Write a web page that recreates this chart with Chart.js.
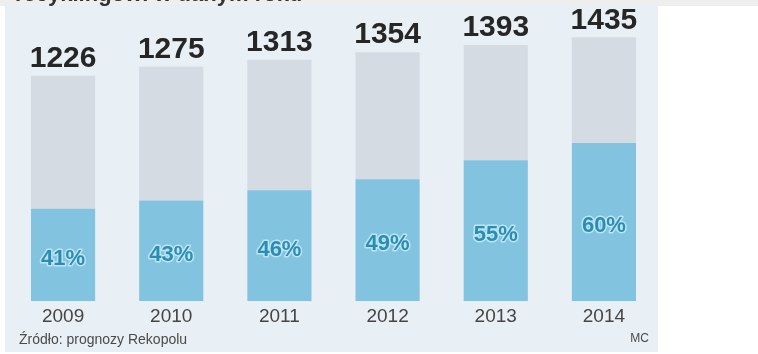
<!DOCTYPE html>
<html>
<head>
<meta charset="utf-8">
<script src="https://cdn.jsdelivr.net/npm/chart.js@4.4.1/dist/chart.umd.min.js"></script>
<style>
  html, body { margin: 0; padding: 0; background: #fff; }
  #wrap { position: relative; width: 758px; height: 354px; }
</style>
</head>
<body>
<div id="wrap"><canvas id="recChart"></canvas></div>
<script>
// Rynek opakowań: ilość (tys. t) i udział poddany recyklingowi
const years = ["2009", "2010", "2011", "2012", "2013", "2014"];
const totals = [1226, 1275, 1313, 1354, 1393, 1435];
const shares = [41, 43, 46, 49, 55, 60]; // %

const recycled = totals.map((t, i) => (t * shares[i]) / 100);
const rest = totals.map((t, i) => t - recycled[i]);

const FONT = "'Liberation Sans', Arial, sans-serif";

// panel background + cropped heading
const panelBg = {
  id: "panelBg",
  beforeDraw(chart) {
    const c = chart.ctx;
    c.save();
    c.fillStyle = "#ffffff";
    c.fillRect(0, 0, chart.width, chart.height);
    c.fillStyle = "#eeeeee";
    c.fillRect(0, 0, chart.width, 6);
    c.fillStyle = "#e9f0f5";
    c.fillRect(5, 6, 653, 346);
    c.fillStyle = "#333";
    c.font = "bold 22px " + FONT;
    c.textBaseline = "alphabetic";
    c.fillText("recyklingowi w danym roku", 15, 1);
    c.restore();
  },
};

// totals above bars, shares inside the blue part, source line
const barLabels = {
  id: "barLabels",
  afterDatasetsDraw(chart) {
    const c = chart.ctx;
    const blue = chart.getDatasetMeta(0).data;
    const grey = chart.getDatasetMeta(1).data;
    const base = chart.scales.y.getPixelForValue(0);
    c.save();
    c.textAlign = "center";
    c.textBaseline = "middle";
    grey.forEach((bar, i) => {
      c.font = "bold 30px " + FONT;
      c.fillStyle = "#262626";
      c.fillText(String(totals[i]), bar.x, bar.y - 17);
    });
    blue.forEach((bar, i) => {
      const y = (bar.y + base) / 2 + 4;
      c.font = "bold 22px " + FONT;
      c.lineJoin = "round";
      c.lineWidth = 3;
      c.strokeStyle = "rgba(205,236,248,0.8)";
      c.strokeText(shares[i] + "%", bar.x, y);
      c.fillStyle = "#2a8db4";
      c.fillText(shares[i] + "%", bar.x, y);
    });
    c.textAlign = "left";
    c.font = "14px " + FONT;
    c.fillStyle = "#4a4a4a";
    c.fillText("Źródło: prognozy Rekopolu", 19, 340);
    c.textAlign = "right";
    c.font = "12px " + FONT;
    c.fillText("MC", 649, 339);
    c.restore();
  },
};

new Chart(document.getElementById("recChart"), {
  type: "bar",
  data: {
    labels: years,
    datasets: [
      {
        data: recycled,
        backgroundColor: "#82c3e0",
        borderWidth: 0,
        categoryPercentage: 0.593,
        barPercentage: 1,
      },
      {
        data: rest,
        backgroundColor: "#d4dbe2",
        borderWidth: 0,
        categoryPercentage: 0.593,
        barPercentage: 1,
      },
    ],
  },
  options: {
    responsive: true,
    maintainAspectRatio: false,
    animation: false,
    layout: { padding: { left: 9, right: 100, top: 7, bottom: 22 } },
    plugins: { legend: { display: false }, tooltip: { enabled: false } },
    scales: {
      x: {
        stacked: true,
        grid: { display: false, drawTicks: false, tickLength: 0 },
        border: { display: false },
        ticks: {
          color: "#454545",
          font: { family: FONT, size: 19 },
          padding: 4,
          maxRotation: 0,
        },
      },
      y: {
        stacked: true,
        display: false,
        min: 0,
        max: 1600,
      },
    },
  },
  plugins: [panelBg, barLabels],
});
</script>
</body>
</html>
